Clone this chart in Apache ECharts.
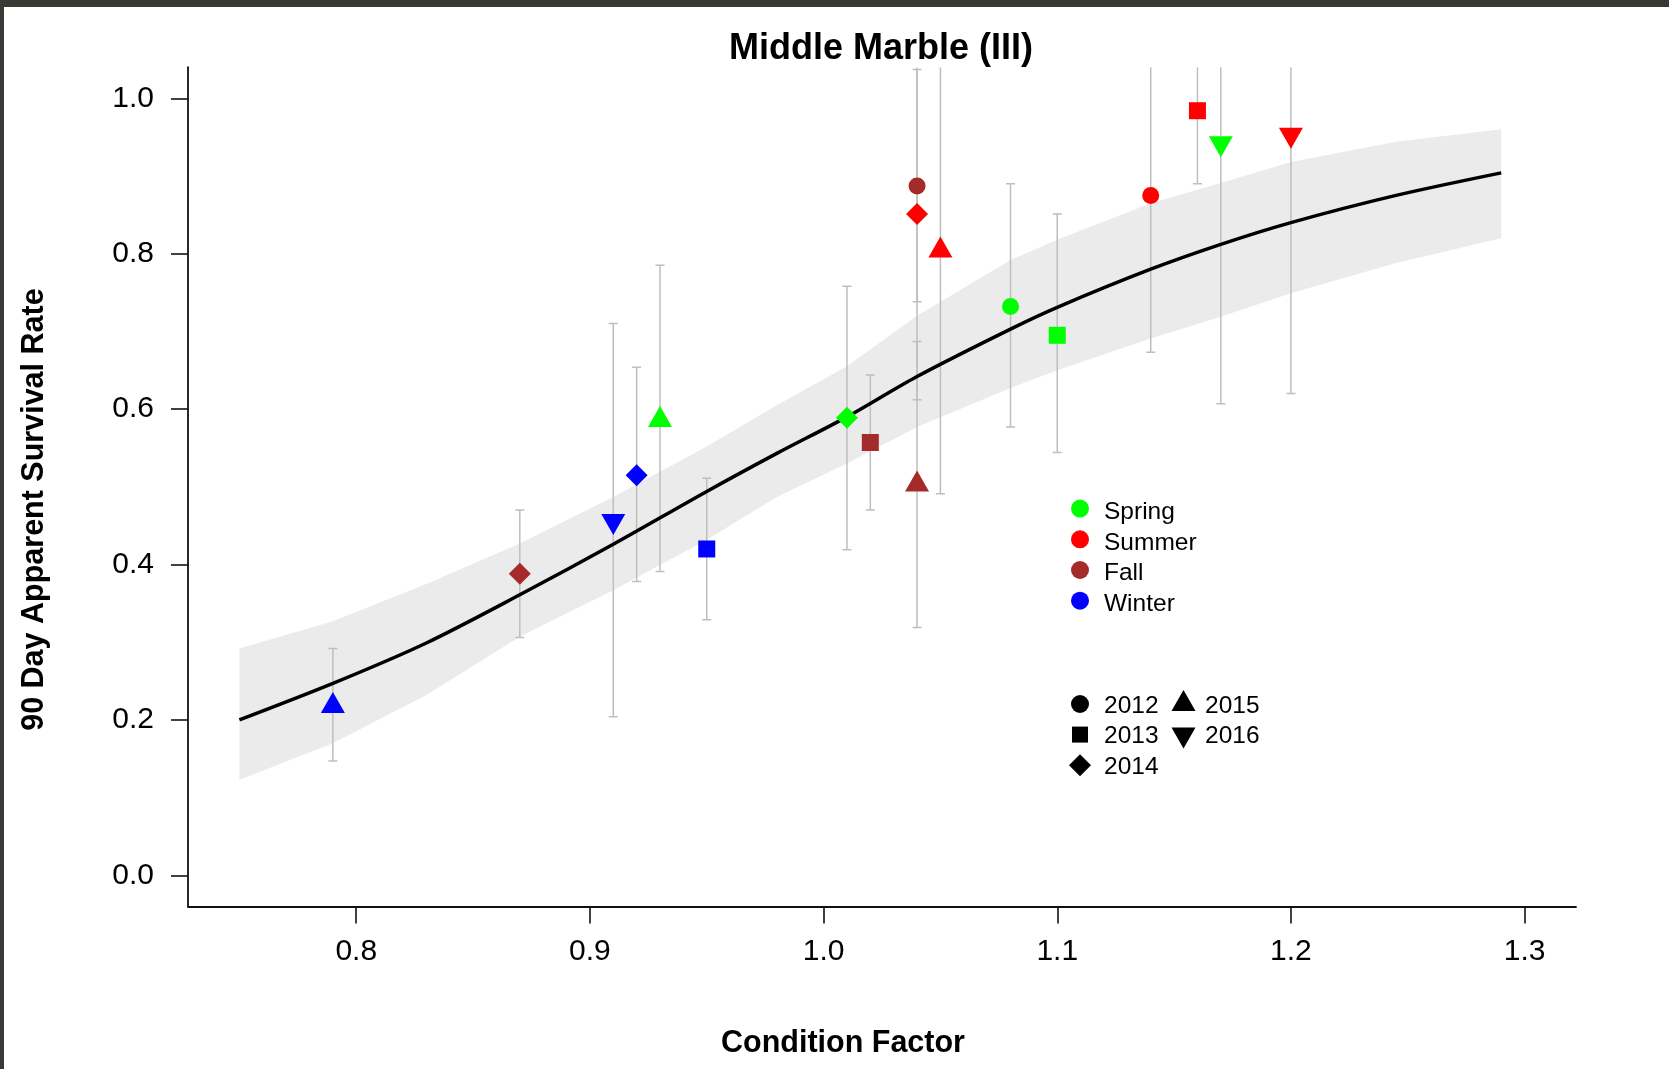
<!DOCTYPE html>
<html>
<head>
<meta charset="utf-8">
<script src="https://cdn.jsdelivr.net/npm/echarts@6/dist/echarts.min.js"></script>
<style>
html,body{margin:0;padding:0;background:#ffffff;}
#chart{width:1669px;height:1069px;}
</style>
</head>
<body>
<div id="chart"></div>
<script>
// ---------------- data ----------------
const chartTitle = 'Middle Marble (III)';
const xAxisTitle = 'Condition Factor';
const yAxisTitle = '90 Day Apparent Survival Rate';

const xTicks = [0.8, 0.9, 1.0, 1.1, 1.2, 1.3];
const yTicks = [0.0, 0.2, 0.4, 0.6, 0.8, 1.0];

const seasons = ['Spring', 'Summer', 'Fall', 'Winter'];
const seasonColors = ['#00FF00', '#FF0000', '#A52A2A', '#0000FF'];
const years = ['2012', '2013', '2014', '2015', '2016'];
const yearShapes = ['circle', 'square', 'diamond', 'triUp', 'triDown'];

// observed estimates
const condition = [0.79, 0.87, 0.91, 0.92, 0.93, 0.95, 1.01, 1.02, 1.04, 1.04, 1.04, 1.05, 1.08, 1.10, 1.14, 1.16, 1.17, 1.20];
const survival  = [0.218, 0.388, 0.456, 0.515, 0.586, 0.420, 0.589, 0.557, 0.887, 0.851, 0.503, 0.804, 0.732, 0.695, 0.875, 0.984, 0.942, 0.953];
const lowerCI   = [0.147, 0.306, 0.204, 0.378, 0.391, 0.329, 0.419, 0.470, 0.612, 0.738, 0.319, 0.491, 0.577, 0.544, 0.673, 0.890, 0.607, 0.620];
const upperCI   = [0.292, 0.470, 0.710, 0.654, 0.785, 0.511, 0.758, 0.644, 1.037, 1.100, 0.687, 1.100, 0.890, 0.851, 1.100, 1.100, 1.100, 1.100];
const pointSeason = ['Winter', 'Fall', 'Winter', 'Winter', 'Spring', 'Winter', 'Spring', 'Fall', 'Fall', 'Summer', 'Fall', 'Summer', 'Spring', 'Spring', 'Summer', 'Summer', 'Spring', 'Summer'];
const pointYear   = ['2015', '2014', '2016', '2014', '2015', '2013', '2014', '2013', '2012', '2014', '2015', '2015', '2012', '2013', '2012', '2013', '2016', '2016'];

// fitted curve and confidence band
const fitX      = [0.75, 0.79, 0.83, 0.87, 0.91, 0.95, 0.98, 1.01, 1.04, 1.08, 1.10, 1.14, 1.17, 1.20, 1.245, 1.29];
const fitY      = [0.200, 0.247, 0.299, 0.361, 0.426, 0.494, 0.543, 0.590, 0.642, 0.703, 0.731, 0.780, 0.812, 0.840, 0.875, 0.904];
const bandUpper = [0.292, 0.327, 0.375, 0.427, 0.487, 0.552, 0.605, 0.655, 0.720, 0.792, 0.818, 0.865, 0.891, 0.918, 0.944, 0.960];
const bandLower = [0.123, 0.170, 0.232, 0.307, 0.367, 0.432, 0.487, 0.530, 0.577, 0.627, 0.650, 0.691, 0.719, 0.749, 0.788, 0.820];

// ---------------- styling ----------------
const FONT = '"Liberation Sans", Arial, sans-serif';
const X_MIN = 0.728, X_MAX = 1.322, Y_MIN = -0.04, Y_MAX = 1.04;

const shapeSymbol = {
  circle:  { symbol: 'circle',  size: 17,       offset: [0, 0] },
  square:  { symbol: 'rect',    size: 17,       offset: [0, 0] },
  diamond: { symbol: 'diamond', size: 22,       offset: [0, 0] },
  triUp:   { symbol: 'triangle', size: [24, 21], offset: [0, -3.5] },
  triDown: { symbol: 'path://M0,0L24,0L12,21Z', size: [24, 21], offset: [0, 3.5] }
};

function shapeOfYear(y) { return yearShapes[years.indexOf(y)]; }

// ---------------- series ----------------
const bandSeries = {
  type: 'custom',
  name: 'band',
  silent: true,
  z: 1,
  clip: true,
  data: [[fitX[0], fitY[0]]],
  renderItem: function (params, api) {
    const pts = [];
    for (let i = 0; i < fitX.length; i++) pts.push(api.coord([fitX[i], bandUpper[i]]));
    for (let i = fitX.length - 1; i >= 0; i--) pts.push(api.coord([fitX[i], bandLower[i]]));
    return { type: 'polygon', shape: { points: pts }, style: { fill: '#EBEBEB', stroke: null } };
  }
};

const errorSeries = {
  type: 'custom',
  name: 'ci',
  silent: true,
  z: 2,
  clip: true,
  encode: { x: 0, y: [1, 2] },
  data: condition.map((x, i) => [x, lowerCI[i], upperCI[i]]),
  renderItem: function (params, api) {
    const x = api.value(0);
    const lo = api.coord([x, api.value(1)]);
    const hiVal = api.value(2);
    const hi = api.coord([x, Math.min(hiVal, Y_MAX)]);
    const cw = 4.5;
    const st = { stroke: '#BEBEBE', lineWidth: 1.5 };
    const children = [
      { type: 'line', shape: { x1: lo[0], y1: lo[1], x2: hi[0], y2: hi[1] }, style: st },
      { type: 'line', shape: { x1: lo[0] - cw, y1: lo[1], x2: lo[0] + cw, y2: lo[1] }, style: st }
    ];
    if (hiVal < Y_MAX) {
      children.push({ type: 'line', shape: { x1: hi[0] - cw, y1: hi[1], x2: hi[0] + cw, y2: hi[1] }, style: st });
    }
    return { type: 'group', children: children };
  }
};

const curveSeries = {
  type: 'line',
  name: 'fit',
  silent: true,
  z: 3,
  showSymbol: false,
  smooth: 0.3,
  lineStyle: { color: '#000000', width: 3.5 },
  data: fitX.map((x, i) => [x, fitY[i]])
};

const pointSeries = seasons.map((s, si) => {
  const data = [];
  condition.forEach((x, i) => {
    if (pointSeason[i] !== s) return;
    const sh = shapeSymbol[shapeOfYear(pointYear[i])];
    data.push({
      value: [x, survival[i]],
      symbol: sh.symbol,
      symbolSize: sh.size,
      symbolOffset: sh.offset
    });
  });
  return {
    type: 'scatter',
    name: s,
    z: 4,
    silent: true,
    itemStyle: { color: seasonColors[si], opacity: 1 },
    emphasis: { disabled: true },
    data: data
  };
});

// ---------------- legend (graphic) ----------------
function legendShape(shape, cx, cy, color) {
  const st = { fill: color, stroke: null };
  if (shape === 'circle') return { type: 'circle', shape: { cx: cx, cy: cy, r: 9 }, style: st };
  if (shape === 'square') return { type: 'rect', shape: { x: cx - 8, y: cy - 8, width: 16, height: 16 }, style: st };
  if (shape === 'diamond') return { type: 'polygon', shape: { points: [[cx, cy - 11], [cx + 11, cy], [cx, cy + 11], [cx - 11, cy]] }, style: st };
  if (shape === 'triUp') return { type: 'polygon', shape: { points: [[cx, cy - 14], [cx + 12, cy + 7], [cx - 12, cy + 7]] }, style: st };
  return { type: 'polygon', shape: { points: [[cx, cy + 14], [cx + 12, cy - 7], [cx - 12, cy - 7]] }, style: st };
}
function legendText(text, x, y) {
  return { type: 'text', x: x, y: y, style: { text: text, fill: '#000', fontSize: 24.5, fontFamily: FONT, align: 'left', verticalAlign: 'middle' } };
}

const legendEls = [];
seasons.forEach((s, i) => {
  const cy = 508.6 + i * 30.7;
  legendEls.push(legendShape('circle', 1080, cy, seasonColors[i]));
  legendEls.push(legendText(s, 1104, cy + 3.5));
});
years.forEach((y, j) => {
  const col = Math.floor(j / 3), row = j % 3;
  const cy = 704 + row * 30.6;
  const sx = col === 0 ? 1080 : 1183.5;
  const tx = col === 0 ? 1104 : 1205;
  legendEls.push(legendShape(yearShapes[j], sx, cy, '#000000'));
  legendEls.push(legendText(y, tx, cy + 2));
});

// ---------------- option ----------------
const option = {
  backgroundColor: '#ffffff',
  animation: false,
  grid: { left: 188, top: 67.2, width: 1388, height: 839.2, containLabel: false, outerBoundsMode: 'none' },
  xAxis: {
    type: 'value',
    min: X_MIN, max: X_MAX,
    splitLine: { show: false },
    axisLine: { show: true, onZero: false, lineStyle: { color: '#111', width: 1.8 } },
    axisTick: { show: true, length: 17, customValues: xTicks, lineStyle: { color: '#111', width: 1.6 } },
    axisLabel: {
      customValues: xTicks, margin: 30,
      formatter: v => Number(v).toFixed(1),
      color: '#000', fontSize: 30, fontFamily: FONT
    }
  },
  yAxis: {
    type: 'value',
    min: Y_MIN, max: Y_MAX,
    splitLine: { show: false },
    axisLine: { show: true, onZero: false, lineStyle: { color: '#111', width: 1.8 } },
    axisTick: { show: true, length: 17, customValues: yTicks, lineStyle: { color: '#111', width: 1.6 } },
    axisLabel: {
      customValues: yTicks, margin: 34,
      formatter: v => Number(v).toFixed(1),
      color: '#000', fontSize: 30, fontFamily: FONT
    }
  },
  series: [bandSeries, errorSeries, curveSeries].concat(pointSeries),
  graphic: {
    elements: [
      { type: 'rect', shape: { x: 0, y: 0, width: 1669, height: 7 }, style: { fill: '#3a3936' }, z: 100 },
      { type: 'rect', shape: { x: 0, y: 0, width: 4, height: 1069 }, style: { fill: '#3a3936' }, z: 100 },
      { type: 'text', x: 881, y: 49, style: { text: chartTitle, fill: '#000', fontSize: 36, fontWeight: 'bold', fontFamily: FONT, align: 'center', verticalAlign: 'middle' } },
      { type: 'text', x: 843, y: 1044, style: { text: xAxisTitle, fill: '#000', fontSize: 30.5, fontWeight: 'bold', fontFamily: FONT, align: 'center', verticalAlign: 'middle' } },
      { type: 'text', x: 35, y: 509.6, rotation: Math.PI / 2, style: { text: yAxisTitle, fill: '#000', fontSize: 30.5, fontWeight: 'bold', fontFamily: FONT, align: 'center', verticalAlign: 'middle' } }
    ].concat(legendEls)
  }
};

const chart = echarts.init(document.getElementById('chart'), null, { renderer: 'canvas', width: 1669, height: 1069 });
chart.setOption(option);
</script>
</body>
</html>
